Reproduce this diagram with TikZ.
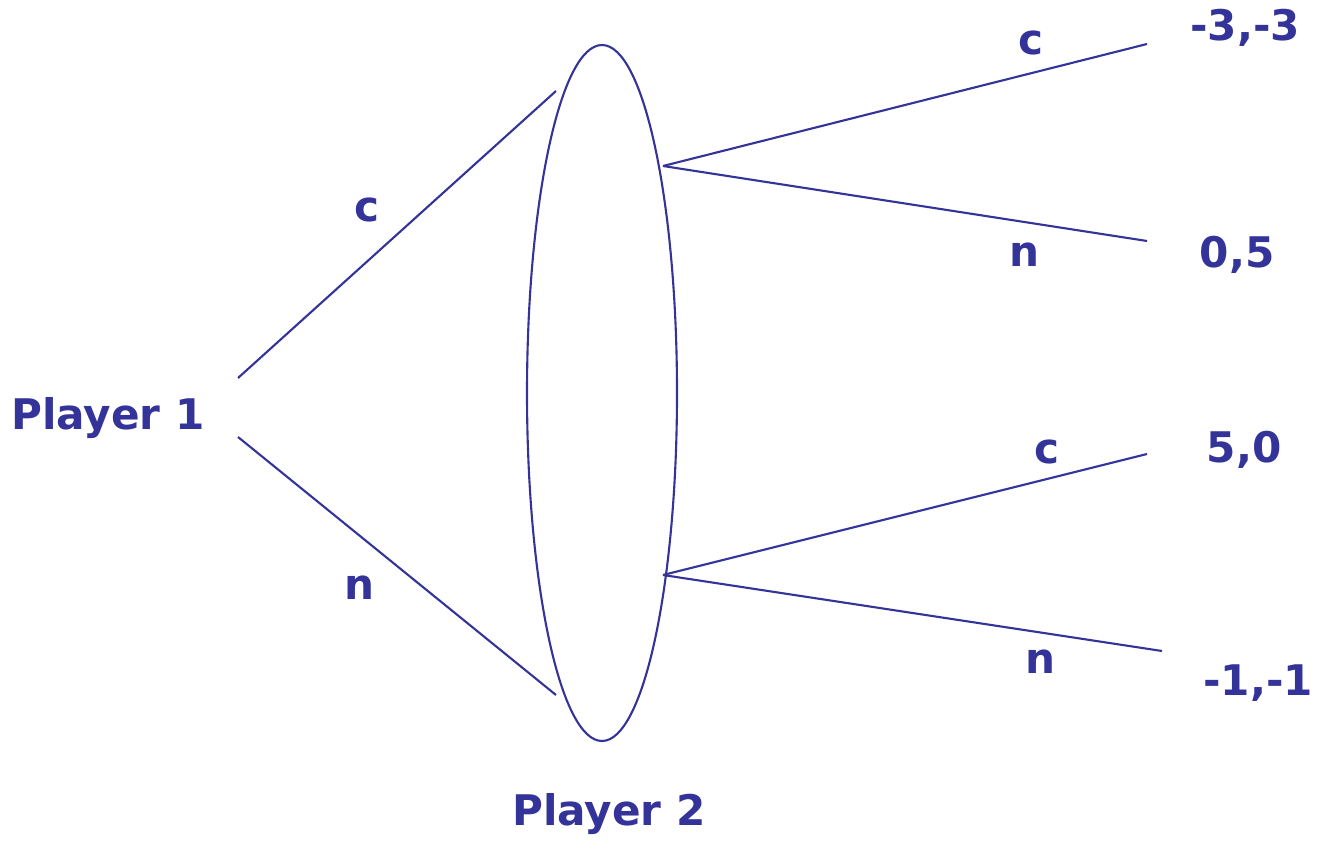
\documentclass[tikz,border=0pt]{standalone}
\usepackage{fontspec}
\setmainfont{DejaVu Sans}
\usepackage{xcolor}
\definecolor{gameblue}{HTML}{333399}

\begin{document}
\begin{tikzpicture}[x=0.02cm,y=-0.02cm,
  every node/.style={text=gameblue,font=\fontsize{24}{28}\selectfont\bfseries},
  branch/.style={draw=gameblue,line width=1.2pt}]
\useasboundingbox (0,0) rectangle (1317,841);
% player 1 and its moves
\node (player1) at (108,418) {Player 1};
\coordinate (p1up) at (238,378);\coordinate (p1down) at (238,437);
\coordinate (p2top) at (556,91);\coordinate (p2bot) at (556,695);
\draw[branch] (p1up) -- (p2top);
\draw[branch] (p1down) -- (p2bot);
\node (c1) at (367,210) {c};
\node (n1) at (360,588) {n};
% information set of player 2
\draw[branch] (602,393) ellipse [x radius=75,y radius=348];
\node (player2) at (609,814) {Player 2};
% after c
\coordinate (upper) at (663,166);
\coordinate (cc) at (1147,44);\coordinate (cn) at (1147,241);
\draw[branch] (upper) -- (cc);
\draw[branch] (upper) -- (cn);
\node (c2) at (1031,43) {c};
\node (n2) at (1024,255) {n};
\node (paycc) at (1245,28) {-3,-3};
\node (paycn) at (1237,255) {0,5};
% after n
\coordinate (lower) at (663,575);
\coordinate (nc) at (1147,454);\coordinate (nn) at (1162,651);
\draw[branch] (lower) -- (nc);
\draw[branch] (lower) -- (nn);
\node (c3) at (1047,452) {c};
\node (n3) at (1040,662) {n};
\node (paync) at (1244,450) {5,0};
\node (paynn) at (1258,683) {-1,-1};
\end{tikzpicture}
\end{document}
